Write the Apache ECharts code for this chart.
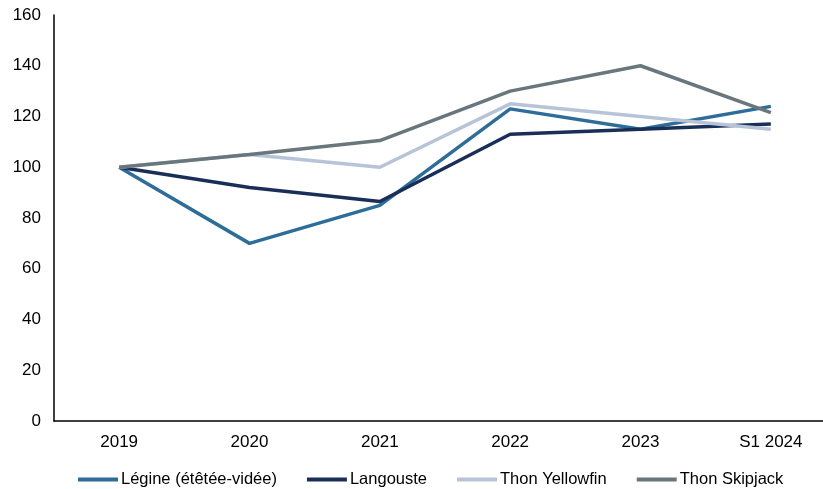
<!DOCTYPE html>
<html><head><meta charset="utf-8">
<script src="https://cdn.jsdelivr.net/npm/echarts@6/dist/echarts.min.js"></script>
<style>html,body{margin:0;padding:0;background:#fff}#c{width:823px;height:489px}</style>
</head><body><div id="c"></div>
<script>
const categories = ['2019','2020','2021','2022','2023','S1 2024'];
const legine = [100, 70, 85, 123, 115, 124];
const langouste = [100, 92, 86.5, 113, 115, 117];
const yellowfin = [100, 105, 100, 125, 120, 115];
const skipjack = [100, 105, 110.5, 130, 140, 121.5];
const yTicks = {min: 0, max: 160, interval: 20};

const chart = echarts.init(document.getElementById('c'));
const font = '"Liberation Sans", Arial, sans-serif';
function s(name, data, color) {
  return {name, type: 'line', data, symbol: 'none', lineStyle: {width: 3.5, color}, itemStyle: {color}};
}
chart.setOption({
  animation: false,
  grid: {left: 54, top: 15, width: 782, height: 406, outerBoundsMode: 'none', containLabel: false},
  xAxis: {
    type: 'category', data: categories, boundaryGap: true,
    axisLine: {lineStyle: {color: '#000', width: 1.5}},
    axisTick: {show: false},
    axisLabel: {color: '#000', fontSize: 17, fontFamily: font, margin: 13}
  },
  yAxis: {
    type: 'value', min: yTicks.min, max: yTicks.max, interval: yTicks.interval,
    axisLine: {show: true, lineStyle: {color: '#000', width: 1.5}},
    axisTick: {show: false},
    splitLine: {show: false},
    axisLabel: {color: '#000', fontSize: 17, fontFamily: font, margin: 13}
  },
  legend: {
    left: 73, top: 466, itemWidth: 40, itemHeight: 4, itemGap: 30, icon: 'rect',
    textStyle: {color: '#000', fontSize: 16.5, fontFamily: font, padding: [0,0,0,-2]}
  },
  series: [
    s('Légine (étêtée-vidée)', legine, '#2E6D99'),
    s('Langouste', langouste, '#1A2F58'),
    s('Thon Yellowfin', yellowfin, '#B7C3D7'),
    s('Thon Skipjack', skipjack, '#69777D')
  ]
});
</script></body></html>
